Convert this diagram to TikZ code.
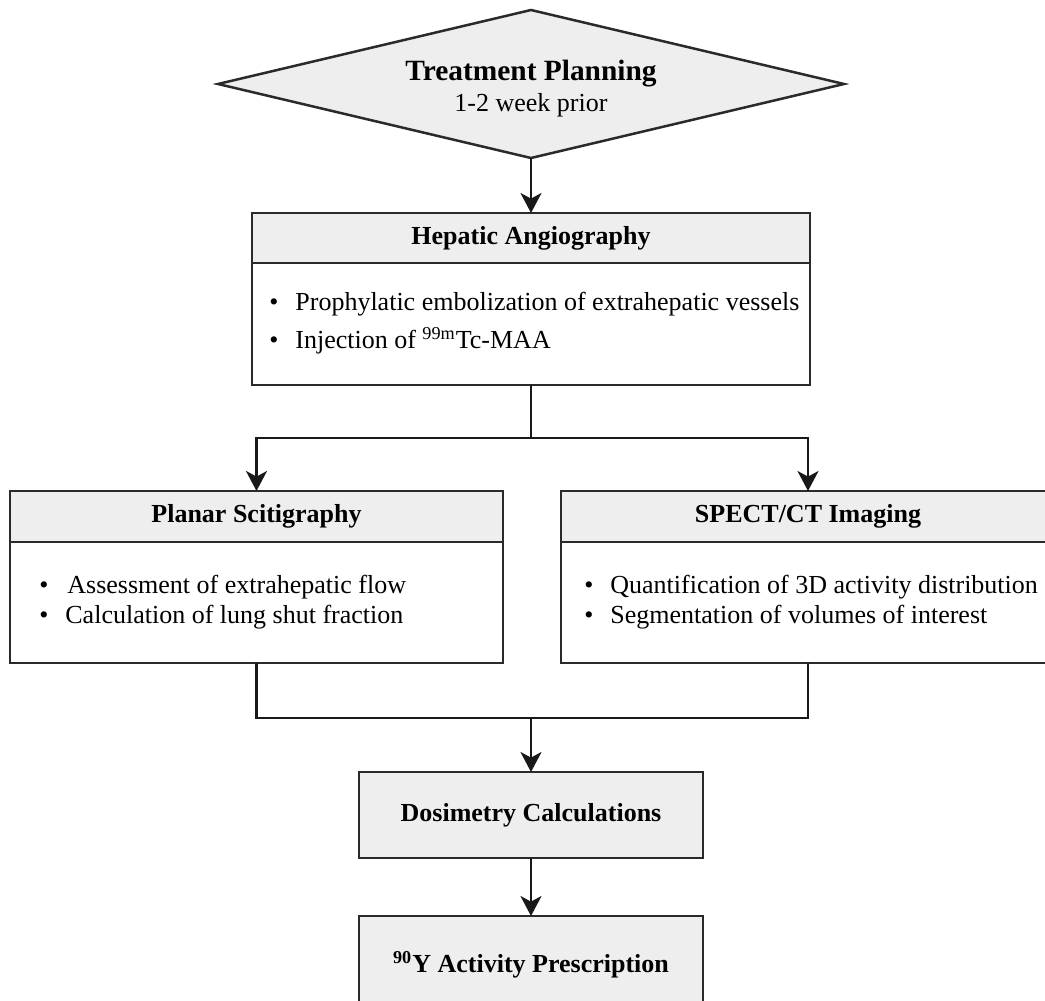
\documentclass[tikz,border=0pt]{standalone}
\usepackage{fontspec}
\setmainfont{Liberation Serif}
\usetikzlibrary{shapes.geometric,arrows.meta}
\definecolor{boxfill}{HTML}{EEEEEE}
\definecolor{linec}{HTML}{2A2A2A}
\newcommand\bodyfs{\fontsize{13}{15.6}\selectfont}
\newcommand\titlefs{\fontsize{14.7}{17.6}\selectfont}
\begin{document}
\begin{tikzpicture}[x=0.5pt,y=-0.5pt,
  boxline/.style={draw=linec,line width=1.25pt,inner sep=0pt,outer sep=0pt},
  hdr/.style={boxline,fill=boxfill,anchor=north west,font=\bodyfs\bfseries},
  bdy/.style={boxline,fill=white,anchor=north west},
  conn/.style={line width=1.1pt,draw=black!90},
  arr/.style={conn,-{Stealth[length=10pt,width=10.5pt,inset=2.8pt]}},
  itm/.style={anchor=base west,inner sep=0pt,font=\bodyfs},
  bul/.style={anchor=base,inner sep=0pt,font=\bodyfs}]
\useasboundingbox (0,0) rectangle (1045,1001);
\clip (0,0) rectangle (1045,1001);

% Treatment planning diamond
\node[diamond,boxline,fill=boxfill,minimum width=313pt,minimum height=74pt] (plan) at (531,84) {};
\node[font=\titlefs\bfseries,inner sep=0pt] (plantitle) at (531,74) {Treatment Planning};
\node[font=\bodyfs,inner sep=0pt] (plansub) at (531,105) {1-2 week prior};

% Hepatic angiography
\node[hdr,minimum width=279pt,minimum height=25pt] (hephdr) at (252,213) {Hepatic Angiography};
\node[bdy,minimum width=279pt,minimum height=61pt] (hepbdy) at (252,263) {};
\node[bul] (hepb1) at (274,310) {•};
\node[itm] (hept1) at (295,310) {Prophylatic embolization of extrahepatic vessels};
\node[bul] (hepb2) at (274,348) {•};
\node[itm] (hept2) at (295,348) {Injection of \textsuperscript{99m}Tc-MAA};

% Planar scintigraphy
\node[hdr,minimum width=246.5pt,minimum height=25.5pt] (planhdr) at (10,491) {Planar Scitigraphy};
\node[bdy,minimum width=246.5pt,minimum height=60.5pt] (planbdy) at (10,542) {};
\node[bul] (planb1) at (44,593) {•};
\node[itm] (plant1) at (67,593) {Assessment of extrahepatic flow};
\node[bul] (planb2) at (44,623) {•};
\node[itm] (plant2) at (65,623) {Calculation of lung shut fraction};

% SPECT/CT
\node[hdr,minimum width=247pt,minimum height=25.5pt] (spechdr) at (561,491) {SPECT/CT Imaging};
\node[bdy,minimum width=247pt,minimum height=60.5pt] (specbdy) at (561,542) {};
\node[bul] (specb1) at (589,593) {•};
\node[itm] (spect1) at (610,593) {Quantification of 3D activity distribution};
\node[bul] (specb2) at (589,623) {•};
\node[itm] (spect2) at (610,623) {Segmentation of volumes of interest};

% Dosimetry
\node[hdr,minimum width=172pt,minimum height=43pt] (dosi) at (359,772) {Dosimetry Calculations};

% 90Y prescription
\node[hdr,minimum width=172pt,minimum height=49pt] (ybox) at (359,916) {\textsuperscript{90}Y Activity Prescription};

% connectors
\coordinate (split) at (531,438);
\coordinate (merge) at (531,718);
\draw[arr] (plan.south) -- (hephdr.north);
\draw[conn] (hepbdy.south) -- (split);
\draw[arr] (split) -| (planhdr.north);
\draw[arr] (split) -| (spechdr.north);
\draw[conn] (planbdy.south) |- (merge);
\draw[conn] (specbdy.south) |- (merge);
\draw[arr] (merge) -- (dosi.north);
\draw[arr] (dosi.south) -- (ybox.north);
\end{tikzpicture}
\end{document}
